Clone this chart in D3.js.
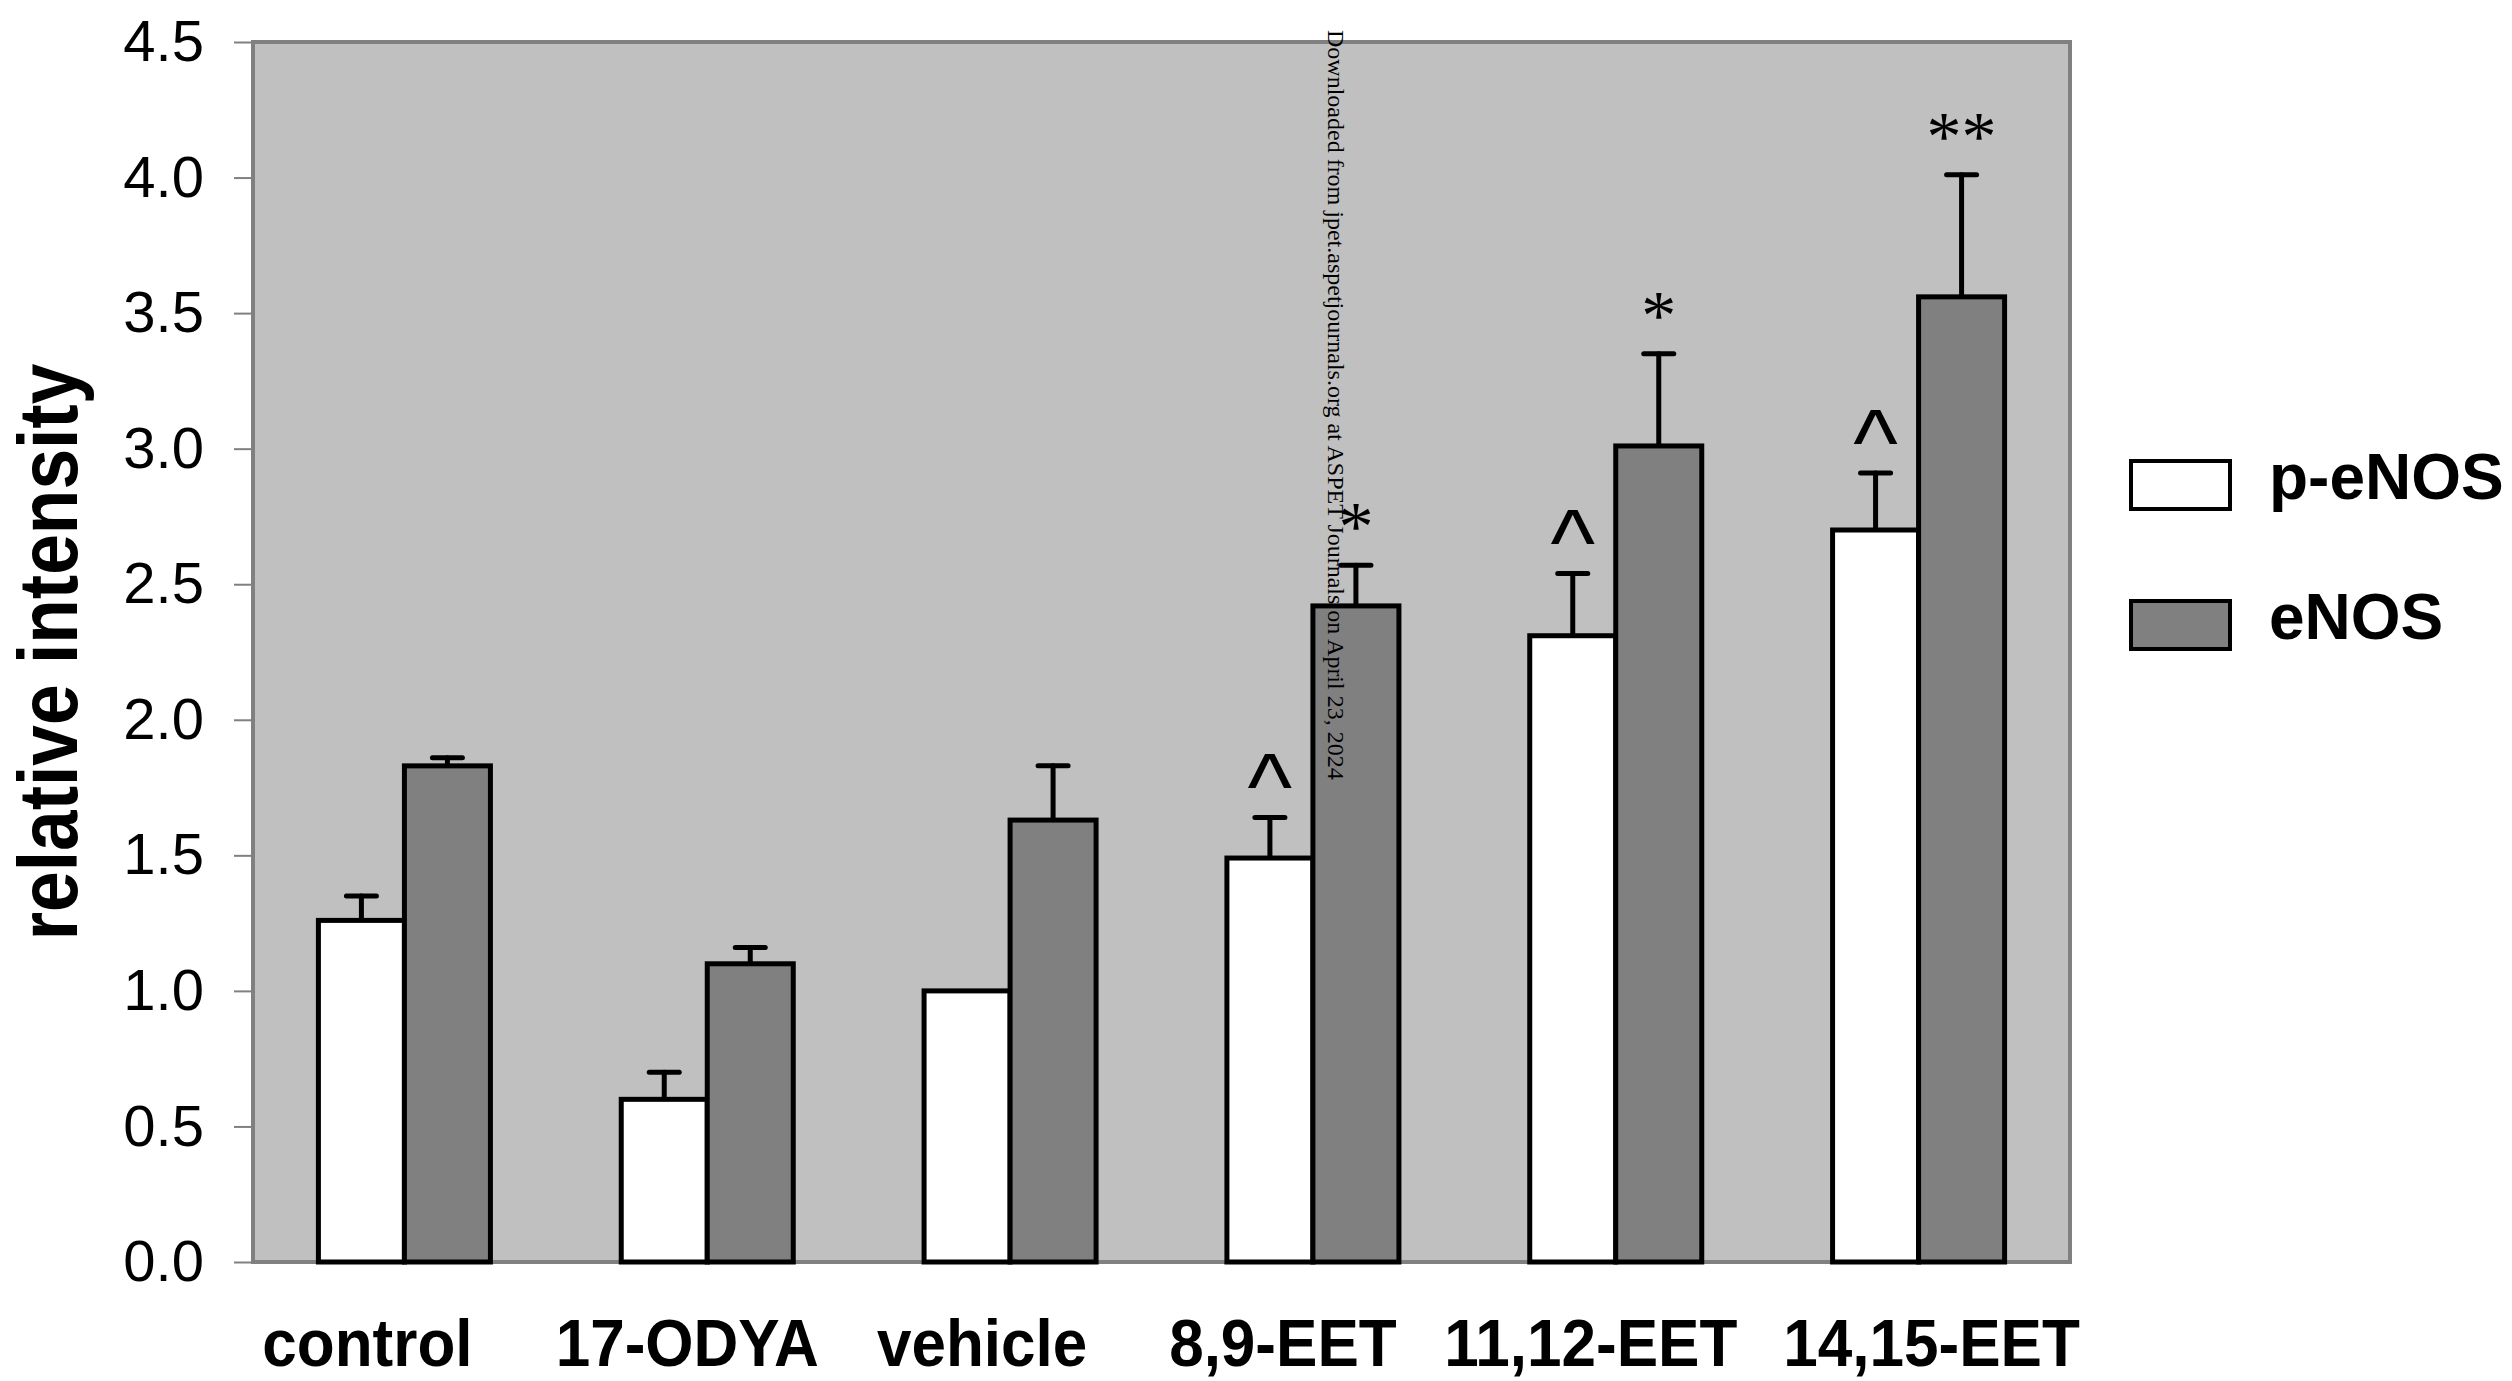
<!DOCTYPE html>
<html>
<head>
<meta charset="utf-8">
<script src="https://cdn.jsdelivr.net/npm/d3@7"></script>
<style>
    body { margin: 0; background: #fff; }
    svg { display: block; }
</style>
</head>
<body>
<div id="chart"></div>
<script>
// values
const categories = ['control', '17-ODYA', 'vehicle', '8,9-EET', '11,12-EET', '14,15-EET'];
const seriesNames = ['p-eNOS', 'eNOS'];
const pEnos = [1.26, 0.60, 1.00, 1.49, 2.31, 2.70];
const pEnosErr = [0.09, 0.10, 0.00, 0.15, 0.23, 0.21];
const enos = [1.83, 1.10, 1.63, 2.42, 3.01, 3.56];
const enosErr = [0.03, 0.06, 0.20, 0.15, 0.34, 0.45];
const pEnosMarks = ['', '', '', '^', '^', '^'];
const enosMarks = ['', '', '', '*', '*', '**'];
const yTicks = [0, 0.5, 1.0, 1.5, 2.0, 2.5, 3.0, 3.5, 4.0, 4.5];
const watermark = 'Downloaded from jpet.aspetjournals.org at ASPET Journals on April 23, 2024';

const width = 2512;
const height = 1381;
const margin = { top: 42, right: 442, bottom: 119, left: 253 };
const plotW = width - margin.left - margin.right;
const plotH = height - margin.top - margin.bottom;
const fills = ['#ffffff', '#808080'];
// the category labels in the figure are not quite centred under their bars
const labelNudge = [-37, -20, -28, -30, -25, 13];

const svg = d3.select('#chart')
    .append('svg')
    .attr('width', width)
    .attr('height', height);

const g = svg.append('g')
    .attr('transform', `translate(${margin.left},${margin.top})`);

// scales
const x0 = d3.scaleBand()
    .domain(categories)
    .range([0, plotW])
    .paddingInner(0.432)
    .paddingOuter(0.216);

const x1 = d3.scaleBand()
    .domain(seriesNames)
    .range([0, x0.bandwidth()]);

const y = d3.scaleLinear()
    .domain([0, 4.5])
    .range([plotH, 0]);

// plot area background + frame
g.append('rect')
    .attr('width', plotW)
    .attr('height', plotH)
    .attr('fill', '#c0c0c0')
    .attr('stroke', '#808080')
    .attr('stroke-width', 4);

// y axis
const yAxis = d3.axisLeft(y)
    .tickValues(yTicks)
    .tickFormat(d3.format('.1f'))
    .tickSize(19)
    .tickPadding(30);

g.append('g')
    .attr('class', 'y-axis')
    .call(yAxis)
    .call(sel => sel.select('.domain').remove())
    .call(sel => sel.selectAll('line').attr('stroke', '#808080').attr('stroke-width', 2))
    .call(sel => sel.selectAll('text')
        .attr('fill', '#000')
        .style('font-family', '"Liberation Sans", Arial, sans-serif')
        .style('font-size', '58px'));

// rows of data per category
const rows = categories.map((c, i) => ({
    category: c,
    bars: [
        { key: seriesNames[0], value: pEnos[i], err: pEnosErr[i], mark: pEnosMarks[i] },
        { key: seriesNames[1], value: enos[i], err: enosErr[i], mark: enosMarks[i] }
    ]
}));

const groups = g.selectAll('.group')
    .data(rows)
    .enter()
    .append('g')
    .attr('class', 'group')
    .attr('transform', d => `translate(${x0(d.category)},0)`);

// error bars (drawn under the bars so stems start at the bar top)
const errs = groups.selectAll('.err')
    .data(d => d.bars.filter(b => b.err > 0))
    .enter()
    .append('g')
    .attr('class', 'err')
    .attr('stroke', '#000')
    .attr('stroke-width', 5)
    .attr('stroke-linecap', 'round');

errs.append('line')
    .attr('x1', d => x1(d.key) + x1.bandwidth() / 2)
    .attr('x2', d => x1(d.key) + x1.bandwidth() / 2)
    .attr('y1', d => y(d.value))
    .attr('y2', d => y(d.value + d.err));

errs.append('line')
    .attr('x1', d => x1(d.key) + x1.bandwidth() / 2 - 15)
    .attr('x2', d => x1(d.key) + x1.bandwidth() / 2 + 15)
    .attr('y1', d => y(d.value + d.err))
    .attr('y2', d => y(d.value + d.err));

// bars
groups.selectAll('.bar')
    .data(d => d.bars)
    .enter()
    .append('rect')
    .attr('class', 'bar')
    .attr('x', d => x1(d.key))
    .attr('y', d => y(d.value))
    .attr('width', x1.bandwidth())
    .attr('height', d => plotH - y(d.value))
    .attr('fill', (d, i) => fills[i])
    .attr('stroke', '#000')
    .attr('stroke-width', 5);

// significance marks
groups.selectAll('.mark')
    .data(d => d.bars.filter(b => b.mark))
    .enter()
    .append('text')
    .attr('class', 'mark')
    .attr('x', d => x1(d.key) + x1.bandwidth() / 2)
    .attr('y', d => d.mark === '^' ? y(d.value + d.err) + 2 : y(d.value + d.err) - 15)
    .attr('text-anchor', 'middle')
    .style('font-family', d => d.mark === '^'
        ? '"Liberation Sans", Arial, sans-serif'
        : '"Liberation Serif", "Times New Roman", serif')
    .style('font-size', d => d.mark === '^' ? '95px' : '70px')
    .text(d => d.mark);

// category labels
g.selectAll('.cat-label')
    .data(categories)
    .enter()
    .append('text')
    .attr('class', 'cat-label')
    .attr('transform', (d, i) => `translate(${x0(d) + x0.bandwidth() / 2 + labelNudge[i]},${plotH + 104}) scale(0.94,1)`)
    .attr('text-anchor', 'middle')
    .style('font-family', '"Liberation Sans", Arial, sans-serif')
    .style('font-weight', 'bold')
    .style('font-size', '66px')
    .text(d => d);

// y axis title
svg.append('text')
    .attr('transform', `translate(77,${margin.top + plotH / 2}) rotate(-90) scale(0.87,1)`)
    .attr('text-anchor', 'middle')
    .style('font-family', '"Liberation Sans", Arial, sans-serif')
    .style('font-weight', 'bold')
    .style('font-size', '84px')
    .text('relative intensity');

// legend
const legend = svg.append('g')
    .attr('transform', 'translate(2131,485)');

const items = legend.selectAll('.item')
    .data(seriesNames)
    .enter()
    .append('g')
    .attr('class', 'item')
    .attr('transform', (d, i) => `translate(0,${i * 140})`);

items.append('rect')
    .attr('x', 0)
    .attr('y', -24)
    .attr('width', 99)
    .attr('height', 48)
    .attr('fill', (d, i) => fills[i])
    .attr('stroke', '#000')
    .attr('stroke-width', 4);

items.append('text')
    .attr('x', 138)
    .attr('y', 14)
    .style('font-family', '"Liberation Sans", Arial, sans-serif')
    .style('font-weight', 'bold')
    .style('font-size', '64px')
    .text(d => d);

// journal watermark running down the plot
svg.append('text')
    .attr('transform', 'translate(1328,30) rotate(90)')
    .style('font-family', '"Liberation Serif", "Times New Roman", serif')
    .style('font-size', '24px')
    .text(watermark);
</script>
</body>
</html>
